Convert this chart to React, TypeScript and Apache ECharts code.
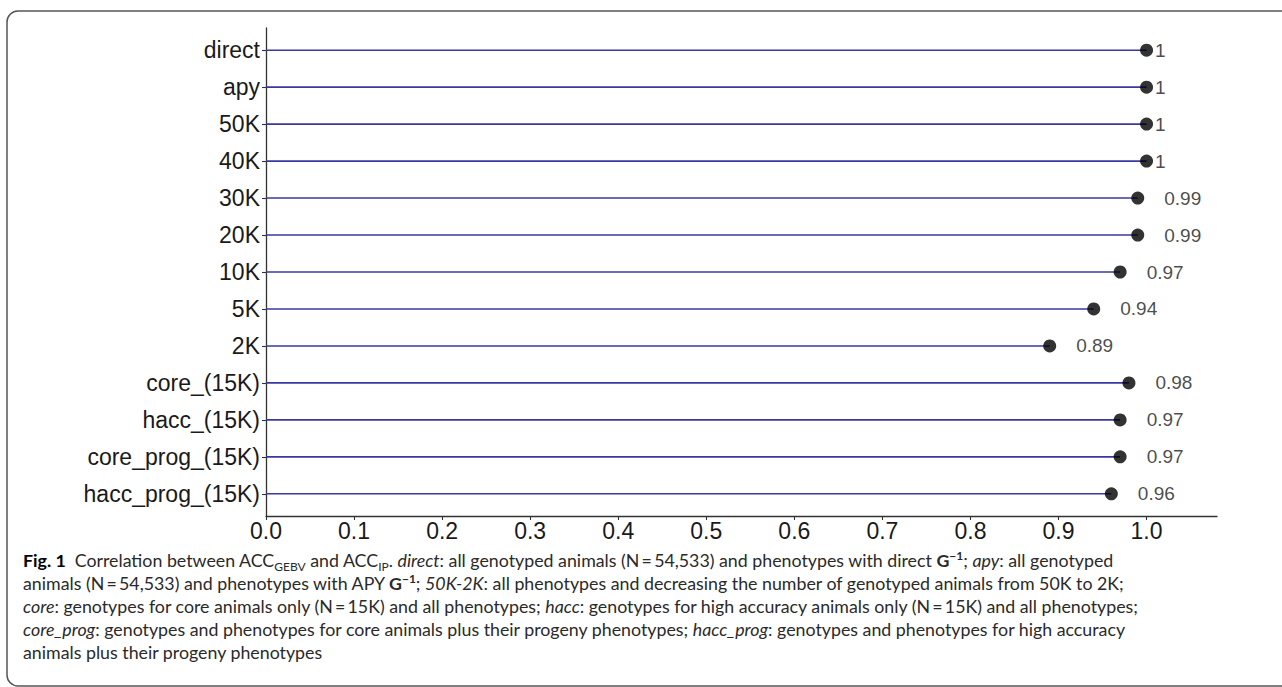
import React, { useEffect, useRef } from "react";
import * as echarts from "echarts";

const categories = [
  "direct",
  "apy",
  "50K",
  "40K",
  "30K",
  "20K",
  "10K",
  "5K",
  "2K",
  "core_(15K)",
  "hacc_(15K)",
  "core_prog_(15K)",
  "hacc_prog_(15K)",
];
const correlations = [1, 1, 1, 1, 0.99, 0.99, 0.97, 0.94, 0.89, 0.98, 0.97, 0.97, 0.96];
const xTicks = [0, 0.1, 0.2, 0.3, 0.4, 0.5, 0.6, 0.7, 0.8, 0.9, 1.0];
const xMin = 0;
const xMax = 1.08;

const AXIS_FONT = "'Liberation Sans', Arial, Helvetica, sans-serif";
const CAPTION_FONT = "Lato, 'Open Sans', sans-serif";

function Chart() {
  const ref = useRef<HTMLDivElement>(null);
  useEffect(() => {
    if (!ref.current) return;
    const chart = echarts.init(ref.current, null, { renderer: "svg" });
    const rowIdx = categories.map((_, i) => i);
    const points = correlations.map((v, i) => [v, i]);
    const option: any = {
      animation: false,
      backgroundColor: "#ffffff",
      grid: {
        left: 266,
        top: 28,
        width: 951,
        height: 488,
        containLabel: false,
        outerBoundsMode: "none",
      },
      xAxis: {
        type: "value",
        min: xMin,
        max: xMax,
        axisLine: { show: true, onZero: false, lineStyle: { color: "#333333", width: 1.3 } },
        axisTick: { show: true, length: 4, customValues: xTicks, lineStyle: { color: "#333333", width: 1.1 } },
        axisLabel: {
          customValues: xTicks,
          formatter: (v: number) => v.toFixed(1),
          fontFamily: AXIS_FONT,
          fontSize: 23,
          color: "#1a1a1a",
          margin: 3,
        },
        splitLine: { show: false },
      },
      yAxis: {
        type: "value",
        inverse: true,
        min: -0.6,
        max: categories.length - 1 + 0.6,
        axisLine: { show: true, onZero: false, lineStyle: { color: "#333333", width: 1.3 } },
        axisTick: { show: true, length: 4, customValues: rowIdx, lineStyle: { color: "#333333", width: 1.1 } },
        axisLabel: {
          customValues: rowIdx,
          formatter: (v: number) => categories[Math.round(v)] ?? "",
          fontFamily: AXIS_FONT,
          fontSize: 23,
          color: "#1a1a1a",
          margin: 6,
        },
        splitLine: { show: false },
      },
      series: [
        {
          type: "custom",
          data: points,
          z: 1,
          renderItem: (params: any, api: any) => {
            const v = api.value(0);
            const i = api.value(1);
            const s = api.coord([0, i]);
            const e = api.coord([v, i]);
            return {
              type: "line",
              shape: { x1: s[0], y1: s[1], x2: e[0], y2: e[1] },
              style: { stroke: "#3838a0", lineWidth: 1.6 },
            };
          },
        },
        {
          type: "scatter",
          z: 3,
          symbol: "circle",
          symbolSize: 13,
          itemStyle: { color: "#000000" },
          data: points.map((p) => ({
            value: p,
            label: { distance: String(p[0]).length > 1 ? 20 : 2 },
          })),
          label: {
            show: true,
            position: "right",
            formatter: (p: any) => String(p.value[0]),
            fontFamily: AXIS_FONT,
            fontSize: 19,
            color: "#1a1a1a",
          },
        },
      ],
      graphic: [
        {
          type: "rect",
          shape: { x: 7, y: 11, width: 1300, height: 675, r: 11 },
          style: { fill: "none", stroke: "#555555", lineWidth: 1.5 },
          silent: true,
        },
      ],
    };
    chart.setOption(option);
    return () => chart.dispose();
  }, []);
  return <div ref={ref} style={{ position: "absolute", left: 0, top: 0, width: 1282, height: 687 }} />;
}

const sub: React.CSSProperties = { fontSize: 12, verticalAlign: -4, lineHeight: 0 };
const sup: React.CSSProperties = { fontSize: 12, verticalAlign: 7, lineHeight: 0, fontWeight: 700 };
const eq = "\u2009=\u2009";

export default function App() {
  return (
    <div style={{ position: "fixed", left: 0, top: 0, width: 1282, height: 687, background: "#fff", overflow: "hidden" }}>
      <Chart />
      <div
        style={{
          position: "absolute",
          left: 23,
          top: 549,
          fontFamily: CAPTION_FONT,
          fontSize: 17.8,
          lineHeight: "23px",
          color: "#2a2a2a",
          whiteSpace: "nowrap",
        }}
      >
        <b style={{ color: "#000" }}>Fig. 1</b>{"\u2002"}Correlation between ACC<span style={sub}>GEBV</span> and ACC
        <span style={sub}>IP</span>. <i>direct</i>: all genotyped animals (N{eq}54,533) and phenotypes with direct{" "}
        <b>G</b>
        <span style={sup}>−1</span>; <i>apy</i>: all genotyped
        <br />
        animals (N{eq}54,533) and phenotypes with APY <b>G</b>
        <span style={sup}>−1</span>; <i>50K-2K</i>: all phenotypes and decreasing the number of genotyped animals from 50K to 2K;
        <br />
        <i>core</i>: genotypes for core animals only (N{eq}15K) and all phenotypes; <i>hacc</i>: genotypes for high accuracy
        animals only (N{eq}15K) and all phenotypes;
        <br />
        <i>core_prog</i>: genotypes and phenotypes for core animals plus their progeny phenotypes; <i>hacc_prog</i>: genotypes
        and phenotypes for high accuracy
        <br />
        animals plus their progeny phenotypes
      </div>
    </div>
  );
}
